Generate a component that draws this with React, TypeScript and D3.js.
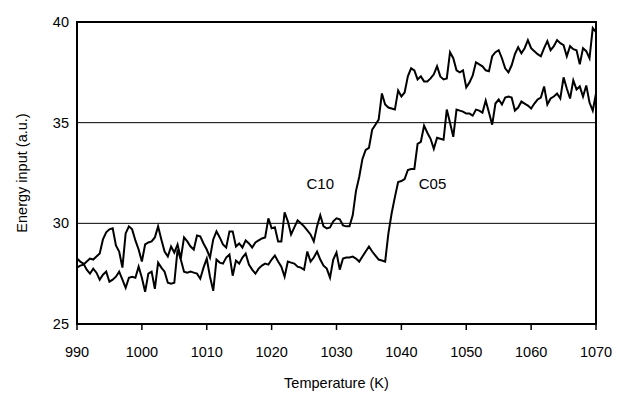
import React from 'react';
import * as d3 from 'd3';

// sampled every 0.5 K from 990 to 1070
const temperatures = d3.range(990, 1070.01, 0.5);

const c10 = [
  27.8, 27.9, 27.95, 28.1, 28.25, 28.2, 28.35, 28.5, 29.2, 29.55,
  29.7, 29.75, 28.9, 28.6, 27.8, 29.5, 29.85, 29.7, 29.15, 28.7,
  28.1, 28.95, 29.05, 29.1, 29.3, 29.85, 29.2, 28.6, 28.35, 28.85,
  28.55, 28.95, 28.25, 29.3, 29.1, 28.85, 28.7, 29.4, 29.35, 29.0,
  28.7, 28.3, 29.2, 29.6, 29.3, 28.95, 28.8, 29.6, 29.6, 28.85,
  29.0, 28.8, 29.15, 29.0, 28.8, 29.05, 29.15, 29.25, 29.3, 30.25,
  29.75, 29.8, 29.1, 29.1, 30.55, 30.1, 29.45, 29.8, 30.15, 30.0,
  29.85, 29.65, 29.45, 29.1, 29.85, 30.4, 29.85, 29.75, 29.8, 30.1,
  30.25, 30.2, 29.9, 29.85, 29.85, 30.4, 31.6, 32.3, 33.2, 33.65,
  33.75, 34.65, 34.9, 35.15, 36.45, 35.9, 35.75, 35.7, 35.65, 36.6,
  36.3, 36.5, 37.3, 37.7, 37.6, 37.15, 37.3, 37.05, 37.05, 37.2,
  37.4, 37.8, 37.3, 37.15, 37.2, 38.5, 38.2, 37.6, 37.5, 37.6,
  36.75, 37.0, 37.35, 38.0, 37.9, 37.8, 37.6, 37.55, 38.3, 38.5,
  38.6, 38.2, 37.7, 37.5, 37.85, 38.4, 38.75, 38.45, 38.7, 39.1,
  38.7, 38.55, 38.4, 38.3, 38.7, 39.05, 38.6, 38.8, 39.1, 38.95,
  38.85, 38.3, 38.8, 38.65, 38.6, 37.9, 38.7, 38.55, 38.2, 39.7,
  39.5,
];

const c05 = [
  28.25, 28.1, 28.0, 27.7, 27.5, 27.75, 27.55, 27.2, 27.45, 27.6,
  27.1, 27.2, 27.35, 27.6, 27.2, 26.8, 27.3, 27.35, 27.3, 27.85,
  27.3, 26.6, 27.5, 27.6, 26.75, 28.05, 27.8, 27.6, 27.05, 27.0,
  27.05, 28.7, 28.2, 27.6, 27.55, 27.6, 27.55, 27.5, 27.25, 27.8,
  28.25, 27.35, 26.65, 28.2, 28.05, 28.0, 28.3, 28.45, 27.4, 28.15,
  28.0, 28.3, 28.5, 27.95, 27.7, 27.5, 27.75, 27.9, 28.0, 27.95,
  28.2, 28.4, 28.1, 27.85, 27.35, 28.1, 28.05, 28.0, 27.85, 27.8,
  27.7, 28.6, 28.1, 28.3, 28.6, 28.2, 27.9, 27.75, 27.3, 28.2,
  28.55, 27.7, 28.25, 28.3, 28.3, 28.35, 28.25, 28.1, 28.35, 28.6,
  28.85, 28.6, 28.4, 28.2, 28.15, 28.1, 29.5, 30.5, 31.3, 32.05,
  32.1, 32.2, 32.65, 32.7, 32.7, 33.95, 34.05, 34.85, 34.5, 34.2,
  33.7, 34.25, 34.2, 34.15, 35.65, 35.0, 34.3, 35.65, 35.6, 35.55,
  35.45, 35.45, 35.35, 35.65, 35.6, 35.5, 36.1, 35.5, 34.9, 35.95,
  36.15, 35.9, 36.25, 36.3, 36.25, 35.6, 35.75, 36.05, 35.95, 35.85,
  35.7, 35.95, 36.15, 36.25, 36.8, 35.9, 36.2, 36.3, 36.45, 36.2,
  37.25, 36.7, 36.2, 37.1, 36.65, 36.8, 36.3, 36.85, 36.0, 35.6,
  36.45,
];

const xTicks = [990, 1000, 1010, 1020, 1030, 1040, 1050, 1060, 1070];
const yTicks = [25, 30, 35, 40];
const gridValues = [30, 35];

// curve labels: [text, temperature, value]
const curveLabels: [string, number, number][] = [
  ['C10', 1027.5, 31.7],
  ['C05', 1044.8, 31.7],
];

const W = 627;
const H = 393;
const margin = { top: 22, right: 31, bottom: 69, left: 77 };
const font = '"Liberation Sans", Arial, sans-serif';

export default function App() {
  const innerW = W - margin.left - margin.right;
  const innerH = H - margin.top - margin.bottom;

  const x = d3.scaleLinear().domain([990, 1070]).range([0, innerW]);
  const y = d3.scaleLinear().domain([25, 40]).range([innerH, 0]);

  const line = d3
    .line<number>()
    .x((_, i) => x(temperatures[i]))
    .y((d) => y(d));

  return (
    <svg
      width={W}
      height={H}
      style={{ position: 'absolute', left: 0, top: 0, background: '#fff' }}
      fontFamily={font}
    >
      <g transform={`translate(${margin.left},${margin.top})`}>
        {/* grid lines */}
        {gridValues.map((v) => (
          <line key={v} x1={0} x2={innerW} y1={y(v)} y2={y(v)} stroke="#000" strokeWidth={1} />
        ))}

        {/* series */}
        <path d={line(c05) ?? ''} fill="none" stroke="#000" strokeWidth={2} strokeLinejoin="miter" />
        <path d={line(c10) ?? ''} fill="none" stroke="#000" strokeWidth={2} strokeLinejoin="miter" />

        {/* frame */}
        <rect x={0} y={0} width={innerW} height={innerH} fill="none" stroke="#000" strokeWidth={2} />

        {/* x ticks */}
        {xTicks.map((t) => (
          <g key={t} transform={`translate(${x(t)},${innerH})`}>
            <line y1={0} y2={6} stroke="#000" strokeWidth={1.5} />
            <text y={33} textAnchor="middle" fontSize={14.5} fill="#000">
              {t}
            </text>
          </g>
        ))}

        {/* y tick labels */}
        {yTicks.map((t) => (
          <text key={t} x={-8} y={y(t)} dy="0.35em" textAnchor="end" fontSize={14.5} fill="#000">
            {t}
          </text>
        ))}

        {curveLabels.map(([label, t, v]) => (
          <text key={label} x={x(t)} y={y(v)} textAnchor="middle" fontSize={15} fill="#000">
            {label}
          </text>
        ))}

        <text x={innerW / 2} y={innerH + 64} textAnchor="middle" fontSize={14.5} fill="#000">
          Temperature (K)
        </text>
        <text
          transform={`translate(${-50},${innerH / 2}) rotate(-90)`}
          textAnchor="middle"
          fontSize={14.5}
          fill="#000"
        >
          Energy input (a.u.)
        </text>
      </g>
    </svg>
  );
}
